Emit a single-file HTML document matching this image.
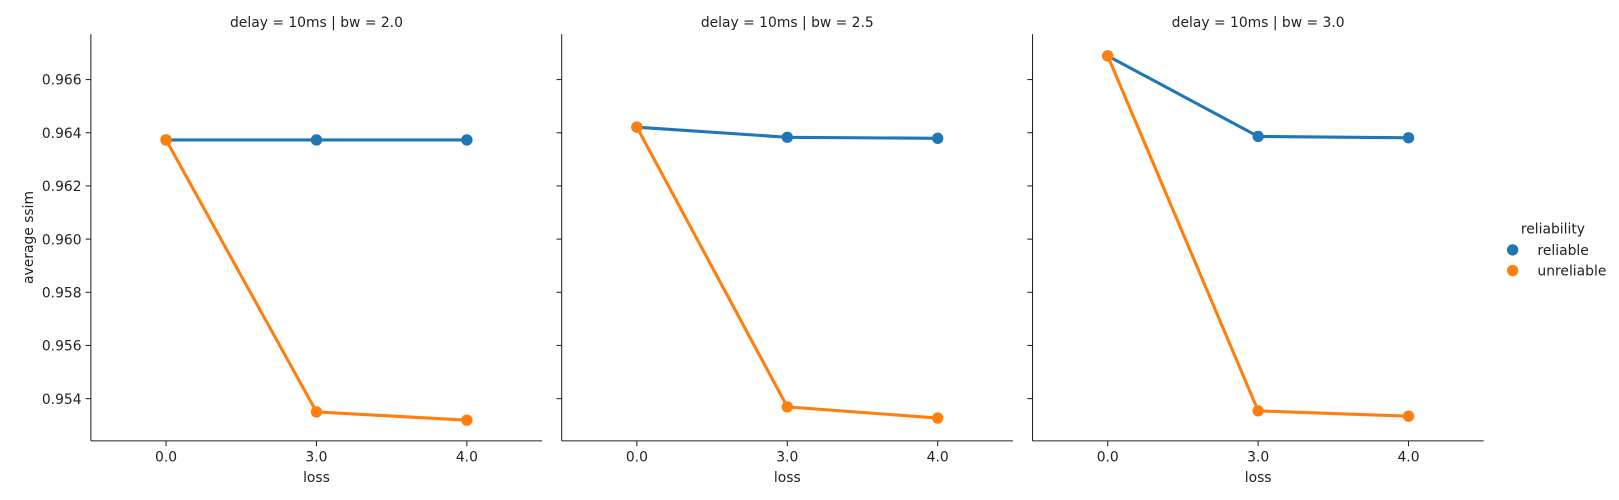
<!DOCTYPE html>
<html><head><meta charset="utf-8"><style>
body{margin:0;background:#fff;}
svg{font-family:"DejaVu Sans","Liberation Sans",sans-serif;display:block;}
</style></head><body>
<svg id="chart" width="1619" height="500" viewBox="0 0 1568 484.2" xmlns="http://www.w3.org/2000/svg"></svg>
<script>
const panelTitles = ["delay = 10ms | bw = 2.0","delay = 10ms | bw = 2.5","delay = 10ms | bw = 3.0"];
const categories = ["0.0","3.0","4.0"];
const yTicks = [0.954,0.956,0.958,0.960,0.962,0.964,0.966];
const seriesNames = ["reliable","unreliable"];
const reliableVals = [[0.96373,0.96373,0.96373],[0.96421,0.96383,0.96379],[0.96689,0.96386,0.96381]];
const unreliableVals = [[0.96373,0.95350,0.95319],[0.96421,0.95369,0.95327],[0.96689,0.95354,0.95334]];
const colors = ["#1f77b4","#ff7f0e"];

const svg = document.getElementById('chart');
const NS = "http://www.w3.org/2000/svg";
function mk(tag, attrs, parent){const e=document.createElementNS(NS,tag);for(const k in attrs)e.setAttribute(k,attrs[k]);(parent||svg).appendChild(e);return e;}
const panelLeft=[88,544,1000], pw=437, plotTop=33, plotBottom=427;
const yMin=0.95241, yMax=0.96771;
const FS=13.45;
function yS(v){return plotBottom-(v-yMin)/(yMax-yMin)*(plotBottom-plotTop);}
function xS(p,i){return panelLeft[p]+(i+0.5)/3*pw;}

for(let p=0;p<3;p++){
  const g=mk('g',{});
  
  
  const L=panelLeft[p];
  const t=mk('text',{x:L+pw/2,y:26,'text-anchor':'middle','font-size':FS,fill:'#222'},g);
  t.textContent=panelTitles[p];
  
  
  const ya=mk('line',{x1:L,x2:L,y1:plotTop,y2:plotBottom,stroke:'#222','stroke-width':1},g);
  
  
  const xa=mk('line',{x1:L,x2:L+pw,y1:plotBottom,y2:plotBottom,stroke:'#222','stroke-width':1},g);
  
  
  yTicks.forEach(v=>{
    const y=yS(v);
    mk('line',{x1:L-5,x2:L,y1:y,y2:y,stroke:'#222'},g);
    if(p===0){const tl=mk('text',{x:L-9,y:y+5,'text-anchor':'end','font-size':FS,fill:'#222'},g);
      tl.textContent=v.toFixed(3);
      
      }
  });
  categories.forEach((c,i)=>{
    const x=xS(p,i);
    mk('line',{x1:x,x2:x,y1:plotBottom,y2:plotBottom+5,stroke:'#222'},g);
    const tl=mk('text',{x:x,y:plotBottom+20,'text-anchor':'middle','font-size':FS,fill:'#222'},g);
    tl.textContent=c;
    
    
  });
  const xl=mk('text',{x:L+pw/2,y:plotBottom+40,'text-anchor':'middle','font-size':FS,fill:'#222'},g);
  xl.textContent='loss';
  
  
  [reliableVals[p],unreliableVals[p]].forEach((vals,s)=>{
    const pts=vals.map((v,i)=>xS(p,i)+','+yS(v)).join(' ');
    const pl=mk('polyline',{points:pts,fill:'none',stroke:colors[s],'stroke-width':3},g);
    
    
    vals.forEach((v,i)=>{
      const c=mk('circle',{cx:xS(p,i),cy:yS(v),r:5.5,fill:colors[s]},g);
      
      
    });
  });
}
const yt=mk('text',{x:32,y:230,'text-anchor':'middle','font-size':FS,fill:'#222',transform:'rotate(-90 32 230)'});
yt.textContent='average ssim';


const lg=mk('g',{});


const lt=mk('text',{x:1504,y:226,'text-anchor':'middle','font-size':FS,fill:'#222'},lg);
lt.textContent='reliability';


seriesNames.forEach((n,i)=>{
  const y=242+i*20;
  const c=mk('circle',{cx:1465,cy:y,r:5.5,fill:colors[i]},lg);
  
  
  const t=mk('text',{x:1489,y:y+5,'font-size':FS,fill:'#222'},lg);
  t.textContent=n;
  
  
});
</script>
</body></html>
